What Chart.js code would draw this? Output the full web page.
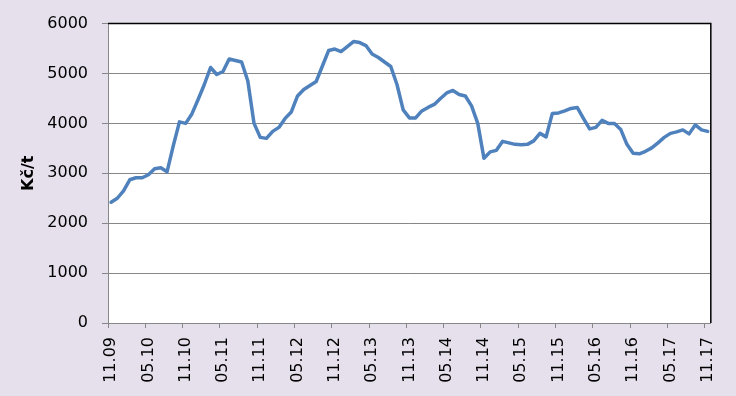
<!DOCTYPE html>
<html>
<head>
<meta charset="utf-8">
<script src="https://cdn.jsdelivr.net/npm/chart.js@4.4.0/dist/chart.umd.min.js"></script>
<style>
    html, body { margin: 0; padding: 0; background: #E6E0EC; }
</style>
</head>
<body>
<canvas id="lineChart" width="736" height="396"></canvas>
<script>
// monthly price, Kč/t, from 11.09 to 11.17
const startMonth = 11;
const startYear = 9;
const prices = [
    2420, 2500, 2650, 2870, 2910, 2910, 2970, 3090, 3110, 3030,
    3550, 4030, 4000, 4190, 4480, 4780, 5120, 4980, 5040, 5290,
    5260, 5230, 4850, 4000, 3720, 3700, 3840, 3920, 4100, 4230,
    4550, 4680, 4760, 4840, 5150, 5460, 5490, 5440, 5540, 5640,
    5620, 5560, 5390, 5320, 5230, 5140, 4780, 4270, 4110, 4110,
    4250, 4320, 4380, 4500, 4610, 4660, 4580, 4550, 4350, 4000,
    3300, 3430, 3460, 3640, 3610, 3580, 3570, 3580, 3650, 3800,
    3730, 4200, 4210, 4250, 4300, 4320, 4100, 3890, 3920, 4060,
    4000, 4000, 3880, 3580, 3400, 3390, 3440, 3510, 3610, 3720,
    3800, 3830, 3870, 3790, 3970, 3870, 3840
];
const yTitle = 'Kč/t';

// build "MM.YY" month labels
const months = [];
for (let i = 0; i < prices.length; i++) {
    let m = (startMonth - 1 + i) % 12 + 1;
    let y = startYear + Math.floor((startMonth - 1 + i) / 12);
    months.push(String(m).padStart(2, '0') + '.' + String(y).padStart(2, '0'));
}

const gridGrey = '#878787';
const tickFont = { family: 'DejaVu Sans', size: 16 };
//tick mark only every 6 months
const halfYearTick = (c) => (c.index % 6 === 0 ? gridGrey : 'rgba(0,0,0,0)');

//white plot area + black top/right frame
const plotFrame = {
    id: 'plotFrame',
    beforeDraw(chart) {
        const a = chart.chartArea;
        const c = chart.ctx;
        c.save();
        c.fillStyle = '#ffffff';
        c.fillRect(a.left, a.top, a.right - a.left, a.bottom - a.top);
        c.restore();
    },
    afterDraw(chart) {
        const a = chart.chartArea;
        const c = chart.ctx;
        c.save();
        c.strokeStyle = '#000000';
        c.lineWidth = 1.5;
        c.beginPath();
        c.moveTo(a.left, a.top);
        c.lineTo(a.right, a.top);
        c.lineTo(a.right, a.bottom);
        c.stroke();
        c.restore();
    }
};

let ctx = document.getElementById('lineChart').getContext('2d');

let chart = new Chart(ctx, {
    type: 'line',
    data: {
        labels: months,
        datasets: [
            {
                data: prices,
                fill: false,
                borderColor: '#4F81BD',
                borderWidth: 3.5,
                borderJoinStyle: 'round',
                borderCapStyle: 'round',
                pointRadius: 0,
                tension: 0
            }
        ]
    },
    options: {
        responsive: false,
        maintainAspectRatio: false,
        animation: false,
        layout: {
            padding: { top: 18, right: 19, left: 0, bottom: 0 }
        },
        plugins: {
            legend: { display: false },
            tooltip: { enabled: false }
        },
        scales: {
            x: {
                offset: true,
                grid: {
                    offset: true,
                    drawOnChartArea: false,
                    tickLength: 5,
                    color: halfYearTick,
                    tickColor: halfYearTick
                },
                border: { color: gridGrey },
                ticks: {
                    autoSkip: false,
                    minRotation: 90,
                    maxRotation: 90,
                    padding: 9,
                    color: '#000000',
                    font: tickFont,
                    callback: (v, i) => (i % 6 === 0 ? months[i] : '')
                },
                afterFit: (s) => { s.height = 73; }
            },
            y: {
                min: 0,
                max: 6000,
                ticks: {
                    stepSize: 1000,
                    padding: 14,
                    color: '#000000',
                    font: tickFont,
                    callback: (v) => String(v)
                },
                grid: { color: gridGrey, tickLength: 6 },
                border: { color: gridGrey },
                title: {
                    display: true,
                    text: yTitle,
                    color: '#000000',
                    font: { family: 'DejaVu Sans', size: 16, weight: 'bold' },
                    padding: { top: 19, bottom: 0 }
                },
                afterFit: (s) => { s.width = 108; }
            }
        }
    },
    plugins: [plotFrame]
});
</script>
</body>
</html>
